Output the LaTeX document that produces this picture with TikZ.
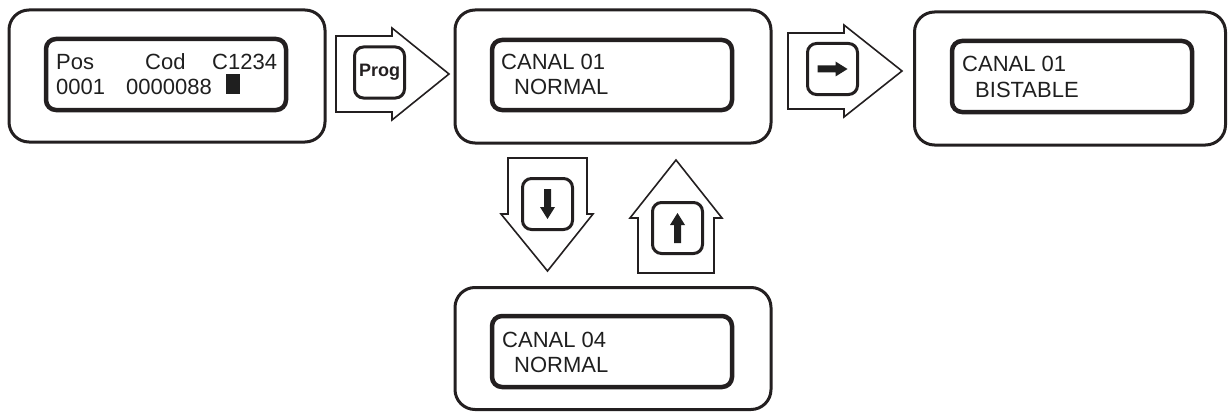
\documentclass[tikz,border=0pt]{standalone}
\usepackage{fontspec}
\setmainfont{Liberation Sans}
\begin{document}
\begin{tikzpicture}[x=1pt,y=-1pt,
  ink/.style={color={rgb,255:red,35;green,31;blue,32}},
  outerbox/.style={draw, ink, line width=3pt, rounded corners=20pt, inner sep=0pt},
  screen/.style={draw, ink, line width=4.5pt, rounded corners=10pt, minimum width=240pt, minimum height=71pt, inner sep=0pt},
  blockarrow/.style={draw, ink, line width=1.6pt, line join=miter},
  keybtn/.style={draw, ink, line width=3pt, rounded corners=9pt, minimum width=50pt, minimum height=51pt, inner sep=0pt},
  lcd/.style={anchor=base west, inner sep=0pt, text=black!88, font=\fontsize{22pt}{25pt}\selectfont},
  glyph/.style={fill=black!88, draw=none}
]
\useasboundingbox (0,0) rectangle (1229,412);

% outer panels
\node[outerbox, minimum width=316pt, minimum height=132pt] (p1) at (167,76) {};
\node[outerbox, minimum width=316pt, minimum height=133pt] (p2) at (613,76.5) {};
\node[outerbox, minimum width=311pt, minimum height=133pt] (p3) at (1070,78.5) {};
\node[outerbox, minimum width=316pt, minimum height=122pt] (p4) at (613,348.5) {};

% screens
\node[screen] (s1) at (166,74.5) {};
\node[screen, minimum height=70pt] (s2) at (612,75) {};
\node[screen] (s3) at (1072,76.5) {};
\node[screen] (s4) at (612,351.5) {};

% texts
\node[lcd] (t1a) at (56,70) {Pos};
\node[lcd] (t1b) at (145,70) {Cod};
\node[lcd] (t1c) at (212,70) {C1234};
\node[lcd] (t1d) at (56,95) {0001};
\node[lcd] (t1e) at (126,95) {0000088};
\fill[black!88] (226,74) rectangle (240,94);

\node[lcd] (t2a) at (501,70) {CANAL 01};
\node[lcd] (t2b) at (514,95) {NORMAL};
\node[lcd] (t3a) at (962,72) {CANAL 01};
\node[lcd] (t3b) at (975,97) {BISTABLE};
\node[lcd] (t4a) at (502,347) {CANAL 04};
\node[lcd] (t4b) at (514,372) {NORMAL};

% block arrows
\draw[blockarrow] (336,36) -- (392,36) -- (392,28) -- (449,74) -- (392,120) -- (392,112) -- (336,112) -- cycle;
\draw[blockarrow] (788,33) -- (844,33) -- (844,25) -- (902,71) -- (844,117) -- (844,109) -- (788,109) -- cycle;
\draw[blockarrow] (508,158) -- (587,158) -- (587,214) -- (593,214) -- (547.5,271) -- (501,214) -- (508,214) -- cycle;
\draw[blockarrow] (638,273) -- (638,218) -- (630,218) -- (676,160) -- (722,218) -- (714,218) -- (714,273) -- cycle;

% keys
\node[keybtn] (kprog) at (379.5,72.5) {\fontsize{18pt}{20pt}\selectfont\bfseries Prog};
\node[keybtn] (kright) at (832.5,69) {};
\node[keybtn] (kdown) at (547.5,204) {};
\node[keybtn] (kup) at (677.5,228) {};

\foreach \k/\a in {kright/0, kdown/-90, kup/90} {
  \fill[black!88, shift={(\k.center)}, rotate=\a]
    (-15,-3.5) -- (3,-3.5) -- (3,-7.5) -- (15,0) -- (3,7.5) -- (3,3.5) -- (-15,3.5) -- cycle;
}
\end{tikzpicture}
\end{document}
